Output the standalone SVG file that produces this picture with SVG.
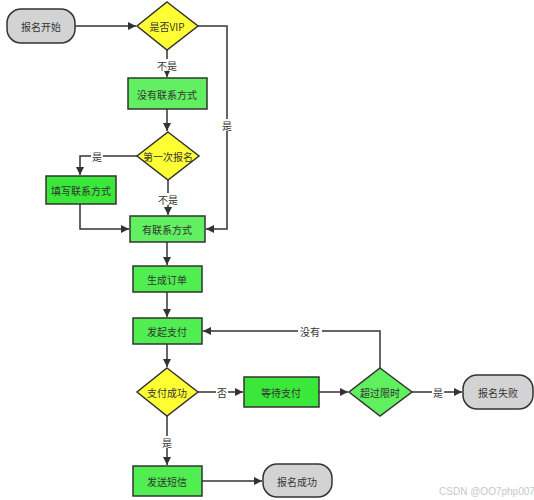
<svg xmlns="http://www.w3.org/2000/svg" width="534" height="500" viewBox="0 0 534 500">
<style>
text{font-family:"Noto Sans CJK SC","Liberation Sans",sans-serif;font-size:10px;fill:#333;text-anchor:middle;dominant-baseline:central}
.term{fill:#d3d3d3;stroke:#333;stroke-width:1.5}
.g1{fill:#62f062;stroke:#333;stroke-width:1.5}
.g2{fill:#3ae83a;stroke:#333;stroke-width:1.5}
.g3{fill:#50ee50;stroke:#333;stroke-width:1.5}
.dy{fill:#ffff33;stroke:#333;stroke-width:1.5}
.dg{fill:#5ef05e;stroke:#333;stroke-width:1.5}
.c{fill:none;stroke:#333;stroke-width:1.5;marker-end:url(#a)}
.bg{fill:#fff}
</style>
<defs>
<marker id="a" viewBox="0 0 10 10" refX="10" refY="5" markerWidth="8" markerHeight="8" markerUnits="userSpaceOnUse" orient="auto">
<path d="M0,0 L10,5 L0,10 z" fill="#333"/>
</marker>
</defs>
<rect width="534" height="500" fill="#fff"/>
<g id="connectors">
<path class="c" d="M75,26 H136"/>
<path class="c" d="M167,50 V77"/>
<path class="c" d="M198,26 H227 V229 H206"/>
<path class="c" d="M167,109 V131"/>
<path class="c" d="M137,156 H80 V175"/>
<path class="c" d="M168,180 V215"/>
<path class="c" d="M80,204 V229 H129"/>
<path class="c" d="M167,242 V265"/>
<path class="c" d="M167,292 V317"/>
<path class="c" d="M167,344 V367"/>
<path class="c" d="M198,392 H243"/>
<path class="c" d="M319,392 H348"/>
<path class="c" d="M412,392 H462"/>
<path class="c" d="M380,368 V331 H203"/>
<path class="c" d="M167,416 V465"/>
<path class="c" d="M202,481 H262"/>
<rect class="bg" x="157" y="59" width="20" height="12"/>
<text x="167" y="65">不是</text>
<rect class="bg" x="221" y="119" width="12" height="12"/>
<text x="227" y="125">是</text>
<rect class="bg" x="91" y="150" width="12" height="12"/>
<text x="97" y="156">是</text>
<rect class="bg" x="158" y="193" width="20" height="12"/>
<text x="168" y="199">不是</text>
<rect class="bg" x="298" y="325" width="24" height="12"/>
<text x="310" y="331">没有</text>
<rect class="bg" x="216" y="386" width="12" height="12"/>
<text x="222" y="392">否</text>
<rect class="bg" x="432" y="386" width="12" height="12"/>
<text x="438" y="392">是</text>
<rect class="bg" x="161" y="436" width="12" height="12"/>
<text x="167" y="442">是</text>
</g>
<g id="start"><rect class="term" x="7" y="9" width="68" height="34" rx="14"/><text x="41" y="26">报名开始</text></g>
<g id="isVip"><path class="dy" d="M167,2 L198,26 L167,50 L137,26 Z"/><text x="167" y="26">是否VIP</text></g>
<g id="noContact"><rect class="g1" x="128" y="78" width="79" height="31"/><text x="167" y="94">没有联系方式</text></g>
<g id="firstSignup"><path class="dy" d="M168,132 L199,156 L168,180 L137,156 Z"/><text x="168" y="156">第一次报名</text></g>
<g id="fillContact"><rect class="g2" x="46" y="176" width="70" height="28"/><text x="81" y="190">填写联系方式</text></g>
<g id="hasContact"><rect class="g1" x="130" y="216" width="75" height="26"/><text x="167" y="229">有联系方式</text></g>
<g id="createOrder"><rect class="g3" x="133" y="266" width="69" height="26"/><text x="167" y="279">生成订单</text></g>
<g id="startPay"><rect class="g3" x="133" y="318" width="69" height="26"/><text x="167" y="331">发起支付</text></g>
<g id="paySuccess"><path class="dy" d="M167,368 L198,392 L167,416 L137,392 Z"/><text x="167" y="392">支付成功</text></g>
<g id="waitPay"><rect class="g2" x="244" y="377" width="75" height="30"/><text x="281" y="392">等待支付</text></g>
<g id="timeout"><path class="dg" d="M380,368 L412,392 L380,416 L349,392 Z"/><text x="380" y="392">超过限时</text></g>
<g id="fail"><rect class="term" x="463" y="375" width="70" height="34" rx="14"/><text x="498" y="392">报名失败</text></g>
<g id="sendSms"><rect class="g3" x="133" y="466" width="69" height="30"/><text x="167" y="481">发送短信</text></g>
<g id="success"><rect class="term" x="263" y="464" width="69" height="33" rx="14"/><text x="297" y="481">报名成功</text></g>
<text x="487" y="491" style="fill:#c8c8c8;font-family:'Liberation Sans',sans-serif;font-size:10px">CSDN @OO7php007</text>
</svg>
